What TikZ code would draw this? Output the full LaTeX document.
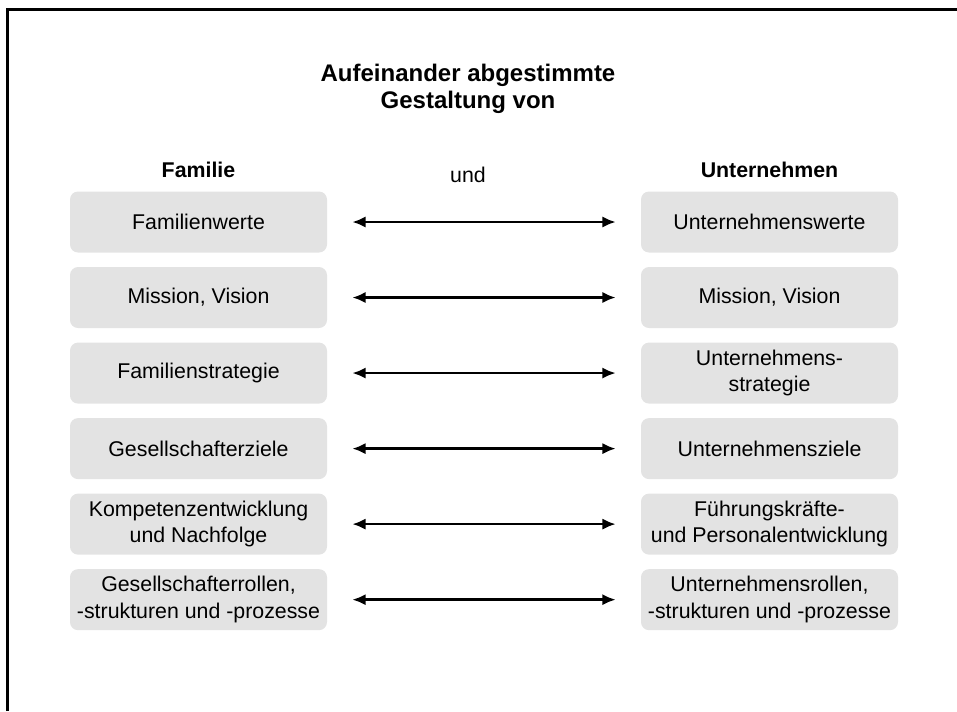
\documentclass[tikz,border=0pt]{standalone}
\usepackage{fontspec}
\setmainfont{Liberation Sans}
\usetikzlibrary{positioning}
\usetikzlibrary{arrows.meta}

\begin{document}
\begin{tikzpicture}[x=0.75pt, y=-0.75pt, >={Latex[length=10pt,width=8.5pt]}, node distance=10.5pt, font=\fontsize{16}{20}\selectfont]
    \tikzstyle{box}=[rectangle, rounded corners=6pt, fill=black!11, minimum width=192.75pt, minimum height=45.75pt, inner sep=0pt, align=center]
    \tikzstyle{head}=[font=\fontsize{16}{20}\selectfont\bfseries]
    \tikzstyle{link}=[<->, line width=2pt, shorten >=18.75pt, shorten <=18.75pt]

    \useasboundingbox (0,0) rectangle (957,711);
    \draw[line width=2.25pt] (7.5,711) -- (7.5,9) -- (957,9);

    % title and column heads
    \node[align=center, font=\fontsize{18}{20}\selectfont\bfseries] (title) at (468,89) {Aufeinander abgestimmte\\Gestaltung von};
    \node[head] (fam) at (198.5,170) {Familie};
    \node[head] (unt) at (769.5,170) {Unternehmen};
    \node (und) at (468,175) {und};

    % left column
    \node[box] (l1) at (198.5,222) {Familienwerte};
    \node[box, below=of l1] (l2) {Mission, Vision};
    \node[box, below=of l2] (l3) {Familienstrategie};
    \node[box, below=of l3] (l4) {Gesellschafterziele};
    \node[box, below=of l4] (l5) {Kompetenzentwicklung\\und Nachfolge};
    \node[box, below=of l5] (l6) {Gesellschafterrollen,\\-strukturen und -prozesse};

    % right column
    \node[box] (r1) at (769.5,222) {Unternehmenswerte};
    \node[box, below=of r1] (r2) {Mission, Vision};
    \node[box, below=of r2] (r3) {Unternehmens-\\strategie};
    \node[box, below=of r3] (r4) {Unternehmensziele};
    \node[box, below=of r4] (r5) {Führungskräfte-\\und Personalentwicklung};
    \node[box, below=of r5] (r6) {Unternehmensrollen,\\-strukturen und -prozesse};

    \draw[link] (l1) -- (r1);
    \draw[link] (l2) -- (r2);
    \draw[link] (l3) -- (r3);
    \draw[link] (l4) -- (r4);
    \draw[link] (l5) -- (r5);
    \draw[link] (l6) -- (r6);
\end{tikzpicture}
\end{document}
